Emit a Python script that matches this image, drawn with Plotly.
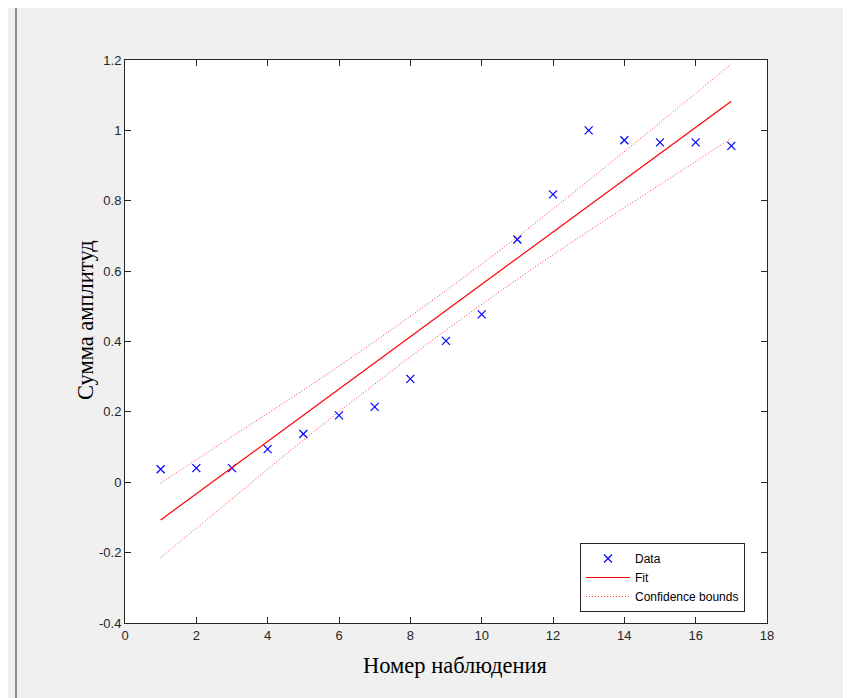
import plotly.graph_objects as go

# Observations
obs_x = [1, 2, 3, 4, 5, 6, 7, 8, 9, 10, 11, 12, 13, 14, 15, 16, 17]
obs_y = [0.037, 0.040, 0.040, 0.094, 0.137, 0.190, 0.214, 0.294, 0.402,
         0.477, 0.690, 0.818, 1.000, 0.972, 0.966, 0.966, 0.956]

# Linear fit
fit_x = [1, 17]
fit_y = [-0.107, 1.083]

# Confidence bounds
bound_x = [1, 3, 5, 7, 9, 11, 13, 15, 17]
upper_y = [-0.002, 0.130, 0.262, 0.400, 0.545, 0.697, 0.858, 1.022, 1.189]
lower_y = [-0.214, -0.047, 0.120, 0.279, 0.432, 0.577, 0.714, 0.846, 0.977]

x_ticks = [0, 2, 4, 6, 8, 10, 12, 14, 16, 18]
y_ticks = [-0.4, -0.2, 0, 0.2, 0.4, 0.6, 0.8, 1.0, 1.2]
y_labels = ["-0.4", "-0.2", "0", "0.2", "0.4", "0.6", "0.8", "1", "1.2"]

x_title = "Номер наблюдения"
y_title = "Сумма амплитуд"

axis_col = "#262626"

fig = go.Figure()
fig.add_trace(go.Scatter(
    x=obs_x, y=obs_y, mode="markers", name="Data",
    marker=dict(symbol="x-thin", size=8, line=dict(color="#0000ff", width=1.2), color="#0000ff"),
))
fig.add_trace(go.Scatter(
    x=fit_x, y=fit_y, mode="lines", name="Fit",
    line=dict(color="#ff0000", width=1.2),
))
fig.add_trace(go.Scatter(
    x=bound_x, y=upper_y, mode="lines", name="Confidence bounds",
    line=dict(color="#ff3030", width=1, dash="1px,2px", shape="spline"),
))
fig.add_trace(go.Scatter(
    x=bound_x, y=lower_y, mode="lines", name="Confidence bounds", showlegend=False,
    line=dict(color="#ff3030", width=1, dash="1px,2px", shape="spline"),
))

OFF = 8  # page offset of the figure inside the window
W, H = 851, 698
L, T = 125 - OFF, 60 - OFF
pw, ph = 642, 563
R = W - L - pw
B = H - T - ph

def px_to_paper_x(px):
    return (px - OFF - L) / pw

def px_to_paper_y(py):
    return (T + ph - (py - OFF)) / ph

frame_left = px_to_paper_x(16)
frame_right = px_to_paper_x(845)
frame_top = px_to_paper_y(5)
frame_bottom = px_to_paper_y(H + 5)

title_font = dict(family="Liberation Serif, Times New Roman", size=22.5, color="#000000")

fig.update_layout(
    width=W, height=H,
    margin=dict(l=L, r=R, t=T, b=B),
    paper_bgcolor="#f0f0f0",
    plot_bgcolor="white",
    font=dict(family="Liberation Sans, Arial", size=11, color=axis_col),
    showlegend=True,
    legend=dict(
        x=px_to_paper_x(745), y=px_to_paper_y(612), xanchor="right", yanchor="bottom",
        bgcolor="white", bordercolor=axis_col, borderwidth=1,
        font=dict(family="Liberation Sans, Arial", size=12, color="#000000"),
        tracegroupgap=0, itemwidth=44,
    ),
    shapes=[
        dict(type="line", xref="paper", yref="paper",
             x0=frame_left, x1=frame_left, y0=frame_bottom, y1=frame_top,
             line=dict(color="#6e6e6e", width=1.5)),
        dict(type="line", xref="paper", yref="paper",
             x0=frame_left, x1=frame_right, y0=frame_top, y1=frame_top,
             line=dict(color="#8a8a8a", width=1)),
        dict(type="line", xref="paper", yref="paper",
             x0=frame_right, x1=frame_right, y0=frame_bottom, y1=frame_top,
             line=dict(color="#8a8a8a", width=1)),
    ],
    annotations=[
        dict(text=x_title, xref="paper", yref="paper",
             x=px_to_paper_x(455), y=px_to_paper_y(665), xanchor="center", yanchor="middle",
             showarrow=False, font=title_font),
        dict(text=y_title, xref="paper", yref="paper", textangle=-90,
             x=px_to_paper_x(85), y=px_to_paper_y(320), xanchor="center", yanchor="middle",
             showarrow=False, font=title_font),
    ],
)

fig.update_xaxes(
    range=[0, 18], tickvals=x_ticks, ticktext=[str(v) for v in x_ticks],
    showgrid=False, zeroline=False, showline=True, linecolor=axis_col, linewidth=1,
    mirror="ticks", ticks="inside", ticklen=6, tickcolor=axis_col, tickwidth=1,
    tickfont=dict(size=13, color=axis_col),
)
fig.update_yaxes(
    range=[-0.4, 1.2], tickvals=y_ticks, ticktext=y_labels,
    showgrid=False, zeroline=False, showline=True, linecolor=axis_col, linewidth=1,
    mirror="ticks", ticks="inside", ticklen=6, tickcolor=axis_col, tickwidth=1,
    tickfont=dict(size=13, color=axis_col),
)

fig.write_html("out.html")
